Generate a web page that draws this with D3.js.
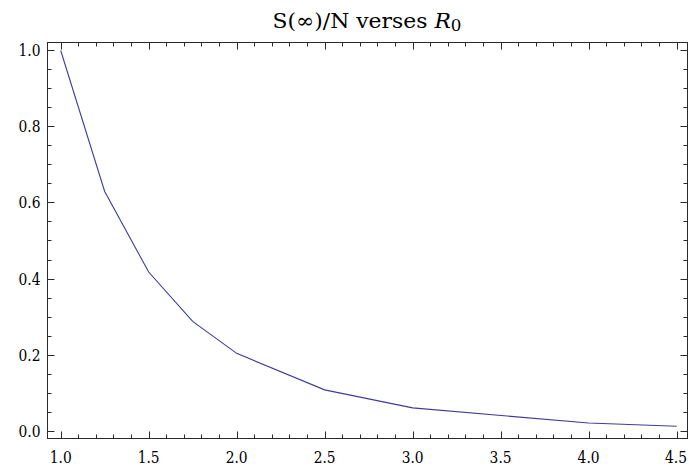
<!DOCTYPE html>
<html>
<head>
<meta charset="utf-8">
<script src="https://cdn.jsdelivr.net/npm/d3@7"></script>
<style>
  html, body { margin: 0; padding: 0; background: #fff; }
  svg { display: block; }
</style>
</head>
<body>
<svg id="chart" width="689" height="468"></svg>
<script>
// Data
const r0Values = [1.0, 1.25, 1.5, 1.75, 2.0, 2.5, 3.0, 4.0, 4.5];
const sInfFraction = [1.0, 0.629, 0.417, 0.287, 0.203, 0.107, 0.0595, 0.0198, 0.0112];
const xTickValues = [1.0, 1.5, 2.0, 2.5, 3.0, 3.5, 4.0, 4.5];
const yTickValues = [0.0, 0.2, 0.4, 0.6, 0.8, 1.0];

(function () {
const FONT = "'DejaVu Serif', serif";
const svg = d3.select("#chart").attr("font-family", FONT);
const pLeft = 47.5, pRight = 687.5, pTop = 42.5, pBottom = 438.5;

const x = d3.scaleLinear().domain([0.925, 4.562]).range([pLeft, pRight]);
const y = d3.scaleLinear().domain([-0.021, 1.021]).range([pBottom, pTop]);

const frameColor = "#2a2a2a";
const g = svg.append("g");

// minor ticks
const xMinor = d3.range(10, 46).map(d => d / 10).filter(v => !xTickValues.some(t => Math.abs(t - v) < 1e-9));
const yMinor = d3.range(0, 21).map(d => d / 20).filter(v => !yTickValues.some(t => Math.abs(t - v) < 1e-9));

function ticksX(vals, len) {
  vals.forEach(v => {
    const px = Math.round(x(v)) + 0.5;
    g.append("line").attr("x1", px).attr("x2", px).attr("y1", pBottom).attr("y2", pBottom - len)
      .attr("stroke", frameColor).attr("stroke-width", 1);
    g.append("line").attr("x1", px).attr("x2", px).attr("y1", pTop).attr("y2", pTop + len)
      .attr("stroke", frameColor).attr("stroke-width", 1);
  });
}
function ticksY(vals, len) {
  vals.forEach(v => {
    const py = Math.round(y(v)) + 0.5;
    g.append("line").attr("x1", pLeft).attr("x2", pLeft + len).attr("y1", py).attr("y2", py)
      .attr("stroke", frameColor).attr("stroke-width", 1);
    g.append("line").attr("x1", pRight).attr("x2", pRight - len).attr("y1", py).attr("y2", py)
      .attr("stroke", frameColor).attr("stroke-width", 1);
  });
}
ticksX(xTickValues, 7);
ticksX(xMinor, 4);
ticksY(yTickValues, 7);
ticksY(yMinor, 4);

// frame
g.append("rect").attr("x", pLeft).attr("y", pTop).attr("width", pRight - pLeft).attr("height", pBottom - pTop)
  .attr("fill", "none").attr("stroke", frameColor).attr("stroke-width", 1);

// tick labels
const labW = 22;
xTickValues.forEach(v => {
  const cx = Math.min(x(v), 689 - 2 - labW / 2);
  g.append("text").attr("x", cx).attr("y", 463).attr("text-anchor", "middle")
    .attr("font-family", FONT).attr("font-size", 17).attr("fill", "#000")
    .attr("textLength", labW).attr("lengthAdjust", "spacingAndGlyphs")
    .text(d3.format(".1f")(v));
});
yTickValues.forEach(v => {
  g.append("text").attr("x", 40.5).attr("y", y(v) + 6).attr("text-anchor", "end")
    .attr("font-family", FONT).attr("font-size", 17).attr("fill", "#000")
    .attr("textLength", labW).attr("lengthAdjust", "spacingAndGlyphs")
    .text(d3.format(".1f")(v));
});

// line
const line = d3.line().x((d, i) => x(r0Values[i])).y(d => y(d));
svg.append("path").datum(sInfFraction).attr("d", line)
  .attr("fill", "none").attr("stroke", "#3d3d99").attr("stroke-width", 1.1);

// title
const title = svg.append("text").attr("x", 367).attr("y", 28).attr("text-anchor", "middle")
  .attr("font-family", FONT).attr("font-size", 21).attr("fill", "#000")
  .attr("textLength", 189).attr("lengthAdjust", "spacingAndGlyphs");
title.append("tspan").text("S(∞)/N verses ");
title.append("tspan").attr("font-style", "italic").text("R");
title.append("tspan").attr("font-size", 16).attr("dy", 3).text("0");
})();
</script>
</body>
</html>
